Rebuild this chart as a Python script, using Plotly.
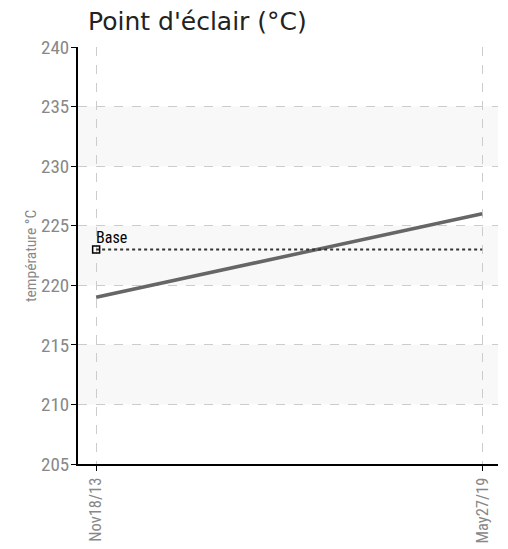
import plotly.graph_objects as go

dates = ["Nov18/13", "May27/19"]
values = [219, 226]
base_value = 223
y_ticks = [205, 210, 215, 220, 225, 230, 235, 240]
bands = [(230, 235), (220, 225), (210, 215)]

narrow = "Liberation Sans Narrow, Arial Narrow, Roboto Condensed, sans-serif"

fig = go.Figure()
fig.add_trace(go.Scatter(
    x=dates, y=values, mode="lines",
    line=dict(color="#666666", width=3.5), showlegend=False, hoverinfo="skip"))
fig.add_trace(go.Scatter(
    x=dates, y=[base_value] * len(dates), mode="lines",
    line=dict(color="#333333", width=2, dash="dot"), showlegend=False, hoverinfo="skip"))
fig.add_trace(go.Scatter(
    x=[dates[0]], y=[base_value], mode="markers",
    marker=dict(symbol="square-open", size=7, color="#000000", line=dict(width=1.5)),
    showlegend=False, hoverinfo="skip"))

for lo, hi in bands:
    fig.add_shape(type="rect", xref="paper", yref="y", x0=0, x1=1, y0=lo, y1=hi,
                  fillcolor="#f8f8f8", line=dict(width=0), layer="below")

fig.add_annotation(x=dates[0], y=base_value, text="Base", showarrow=False,
                   xanchor="left", yanchor="bottom", xshift=-2, yshift=1,
                   font=dict(family=narrow, size=16, color="#000000"))

# y-axis title placed as rotated annotation
fig.add_annotation(xref="paper", yref="paper", x=-0.113, y=0.5, text="température °C",
                   textangle=-90, showarrow=False, xanchor="center", yanchor="middle",
                   font=dict(family=narrow, size=15.5, color="#888888"))

fig.update_layout(
    width=500, height=541,
    margin=dict(l=70, r=10, t=39, b=85),
    paper_bgcolor="white", plot_bgcolor="white",
    title=dict(text="Point d'éclair (°C)", x=80 / 500, xanchor="left", y=1 - 13 / 541, yanchor="middle",
               font=dict(family="DejaVu Sans", size=25, color="#222222")),
    xaxis=dict(type="category", range=[-0.047, 1.041], automargin=False,
               showline=True, linecolor="#000000", linewidth=2,
               ticks="outside", ticklen=5, tickcolor="#000000",
               showgrid=True, gridcolor="#cccccc", griddash="dash", gridwidth=1,
               tickangle=-90, tickfont=dict(family=narrow, size=16.5, color="#888888"),
               zeroline=False),
    yaxis=dict(range=[205, 240], tickvals=y_ticks, automargin=False,
               showline=True, linecolor="#000000", linewidth=2,
               ticks="outside", ticklen=5, tickcolor="#000000",
               ticklabelstandoff=-2,
               showgrid=True, gridcolor="#cccccc", griddash="dash", gridwidth=1,
               tickfont=dict(family=narrow, size=19, color="#888888"),
               zeroline=False),
)

fig.write_html("out.html")
